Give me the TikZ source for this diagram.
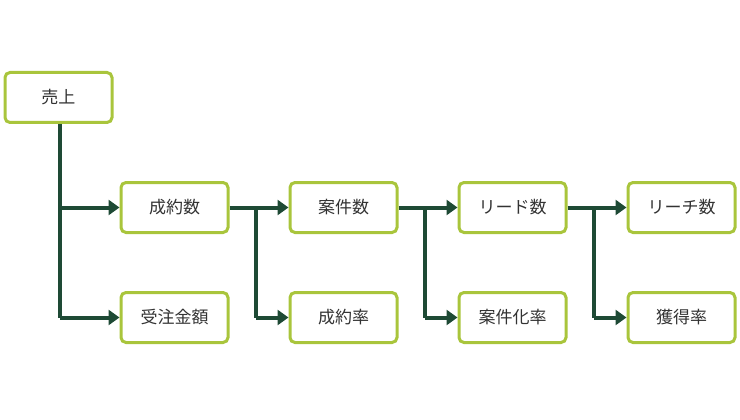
\documentclass[tikz,border=0pt]{standalone}
\usepackage{fontspec}
\usepackage{tikz}
\usetikzlibrary{arrows.meta}
\newfontfamily\jpfont{Noto Sans CJK JP}
\definecolor{boxline}{HTML}{A9C53C}
\definecolor{arrowgreen}{HTML}{1E4A35}
\definecolor{textgray}{HTML}{333333}
\tikzset{
	kpibox/.style={draw=boxline, line width=3pt, rounded corners=5pt, fill=white,
		minimum width=107pt, minimum height=50pt, inner sep=0pt,
		font=\jpfont\fontsize{17}{17}\selectfont, text=textgray},
	link/.style={draw=arrowgreen, line width=4pt, -{Triangle[length=11pt,width=15pt]}},
	trunk/.style={draw=arrowgreen, line width=4pt}
}
\begin{document}
\begin{tikzpicture}[x=1pt,y=-1pt]
	\useasboundingbox (0,0) rectangle (740,420);
	
	\node[kpibox] (sales) at (58.5,97.5) {売上};
	\node[kpibox] (deals) at (174.5,207.5) {成約数};
	\node[kpibox] (amount) at (174.5,317.5) {受注金額};
	\node[kpibox] (cases) at (343.5,207.5) {案件数};
	\node[kpibox] (closerate) at (343.5,317.5) {成約率};
	\node[kpibox] (leads) at (512.5,207.5) {リード数};
	\node[kpibox] (caserate) at (512.5,317.5) {案件化率};
	\node[kpibox] (reach) at (681.5,207.5) {リーチ数};
	\node[kpibox] (gain) at (681.5,317.5) {獲得率};
	
	% branches
	\coordinate (s1) at (60,207.5);
	\coordinate (s2) at (60,317.5);
	\draw[trunk] (sales.south -| s1) -- (s2);
	\draw[link] (s1) -- (deals);
	\draw[link] (s2) -- (amount);
	
	\foreach \from/\to/\low/\bx in {deals/cases/closerate/256, cases/leads/caserate/425, leads/reach/gain/594}{
		\draw[trunk] (\bx,207.5) -- (\bx,317.5);
		\draw[link] (\from) -- (\to);
		\draw[link] (\bx,317.5) -- (\low);
	}
\end{tikzpicture}
\end{document}
